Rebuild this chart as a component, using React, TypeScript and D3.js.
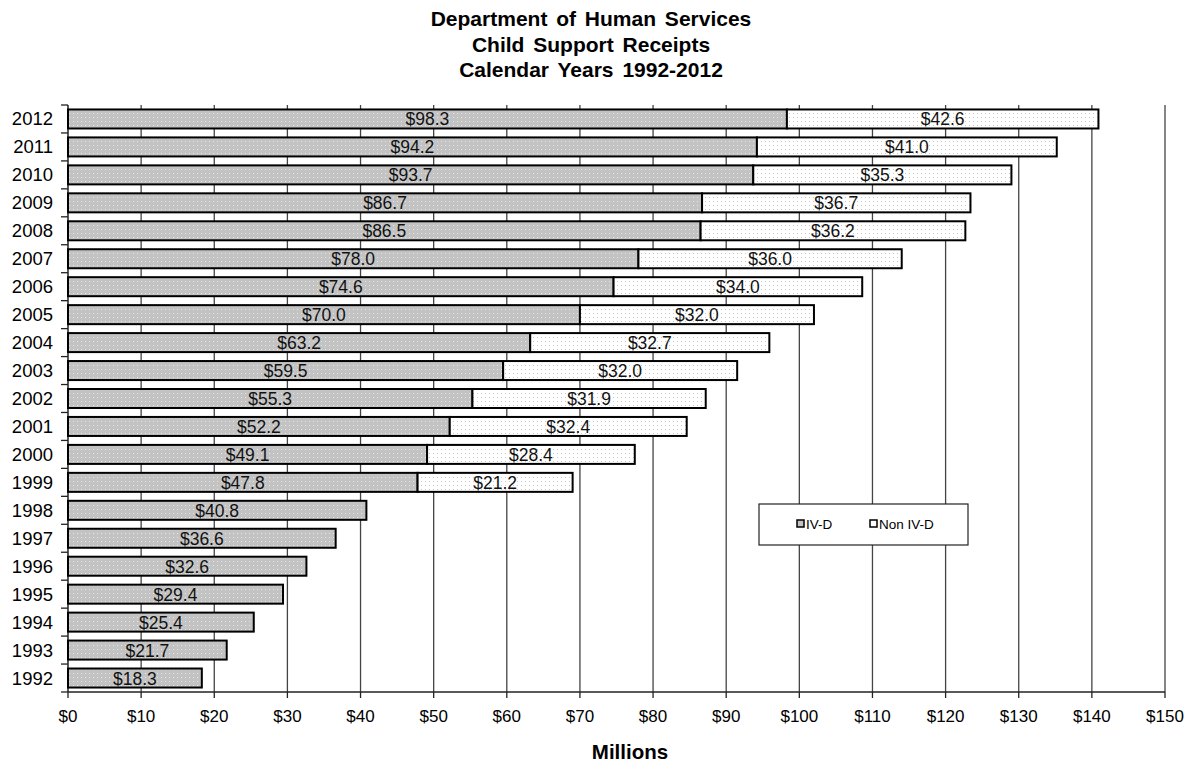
import React from 'react';
import * as d3 from 'd3';

// Calendar years, bottom to top in the chart
const years = [
  '1992', '1993', '1994', '1995', '1996', '1997', '1998', '1999', '2000', '2001', '2002',
  '2003', '2004', '2005', '2006', '2007', '2008', '2009', '2010', '2011', '2012',
];
// Millions of dollars
const ivd = [
  18.3, 21.7, 25.4, 29.4, 32.6, 36.6, 40.8, 47.8, 49.1, 52.2, 55.3,
  59.5, 63.2, 70.0, 74.6, 78.0, 86.5, 86.7, 93.7, 94.2, 98.3,
];
const nonIvd = [
  0, 0, 0, 0, 0, 0, 0, 21.2, 28.4, 32.4, 31.9,
  32.0, 32.7, 32.0, 34.0, 36.0, 36.2, 36.7, 35.3, 41.0, 42.6,
];
const xTicks = [0, 10, 20, 30, 40, 50, 60, 70, 80, 90, 100, 110, 120, 130, 140, 150];
const titleLines = ['Department of Human Services', 'Child Support Receipts', 'Calendar Years 1992-2012'];
const seriesNames = ['IV-D', 'Non IV-D'];

const W = 1195;
const H = 765;
const left = 68;
const right = 1165;
const top = 105;
const bottom = 692;
const font = '"Liberation Sans", Arial, sans-serif';

const App: React.FC = () => {
  const x = d3.scaleLinear().domain([0, 150]).range([left, right]);
  const y = d3.scaleBand<string>()
    .domain([...years].reverse())
    .range([top, bottom])
    .paddingInner(0.32)
    .paddingOuter(0.16);
  const band = (bottom - top) / years.length;
  const bounds = d3.range(years.length + 1).map(i => top + i * band);

  const rows = years.map((yr, i) => ({ yr, a: ivd[i], b: nonIvd[i] }));

  return (
    <svg width={W} height={H} style={{ position: 'absolute', left: 0, top: 0, background: '#fff' }}>
      <defs>
        <pattern id="dotGray" width="4" height="4" patternUnits="userSpaceOnUse">
          <rect width="4" height="4" fill="#c3c3c3" />
          <rect x="1" y="1" width="1" height="1" fill="#e6e6e6" />
        </pattern>
        <pattern id="dotWhite" width="4" height="4" patternUnits="userSpaceOnUse">
          <rect width="4" height="4" fill="#fff" />
          <rect x="1" y="1" width="1" height="1" fill="#c8c8c8" />
        </pattern>
      </defs>

      {/* title */}
      {titleLines.map((t, i) => (
        <text key={t} x={591} y={26 + i * 25.5} textAnchor="middle" fontFamily={font}
          fontWeight="bold" fontSize={21} wordSpacing={3} fill="#000">{t}</text>
      ))}

      {/* gridlines */}
      {xTicks.slice(1).map(v => (
        <line key={v} x1={x(v)} x2={x(v)} y1={top} y2={bottom} stroke="#444" strokeWidth={1.3} />
      ))}

      {/* axes */}
      <line x1={left} x2={left} y1={top} y2={bottom} stroke="#222" strokeWidth={1.5} />
      <line x1={left} x2={right} y1={bottom} y2={bottom} stroke="#222" strokeWidth={1.5} />
      {bounds.map((b, i) => (
        <line key={i} x1={left - 7} x2={left} y1={b} y2={b} stroke="#222" strokeWidth={1.3} />
      ))}
      {xTicks.map(v => (
        <g key={v}>
          <line x1={x(v)} x2={x(v)} y1={bottom} y2={bottom + 6} stroke="#222" strokeWidth={1.3} />
          <text x={x(v)} y={bottom + 30} textAnchor="middle" fontFamily={font} fontSize={17} fill="#000">
            ${v}
          </text>
        </g>
      ))}
      {years.map(yr => (
        <text key={yr} x={53} y={(y(yr) ?? 0) + y.bandwidth() / 2 + 6.5} textAnchor="end"
          fontFamily={font} fontSize={18.5} fill="#000">{yr}</text>
      ))}

      {/* bars */}
      {rows.map(r => {
        const by = y(r.yr) ?? 0;
        const bh = y.bandwidth();
        return (
          <g key={r.yr}>
            <rect x={x(0)} y={by} width={x(r.a) - x(0)} height={bh} fill="url(#dotGray)"
              stroke="#000" strokeWidth={2} />
            <text x={(x(0) + x(r.a)) / 2} y={by + bh / 2 + 6.5} textAnchor="middle"
              fontFamily={font} fontSize={17.5} fill="#111">${r.a.toFixed(1)}</text>
            {r.b > 0 && (
              <>
                <rect x={x(r.a)} y={by} width={x(r.a + r.b) - x(r.a)} height={bh} fill="url(#dotWhite)"
                  stroke="#000" strokeWidth={2} />
                <text x={(x(r.a) + x(r.a + r.b)) / 2} y={by + bh / 2 + 6.5} textAnchor="middle"
                  fontFamily={font} fontSize={17.5} fill="#111">${r.b.toFixed(1)}</text>
              </>
            )}
          </g>
        );
      })}

      {/* legend */}
      <rect x={759} y={504} width={209} height={41} fill="#fff" stroke="#222" strokeWidth={1.2} />
      {seriesNames.map((n, i) => {
        const lx = i === 0 ? 797 : 870;
        return (
          <g key={n}>
            <rect x={lx} y={520} width={7} height={7} fill={i === 0 ? '#c3c3c3' : '#fff'}
              stroke="#000" strokeWidth={1.5} />
            <text x={lx + 9} y={529} fontFamily={font} fontSize={13.5} fill="#000">{n}</text>
          </g>
        );
      })}

      {/* axis title */}
      <text x={630} y={759} textAnchor="middle" fontFamily={font}
        fontWeight="bold" fontSize={20.5} fill="#000">Millions</text>
    </svg>
  );
};

export default App;
